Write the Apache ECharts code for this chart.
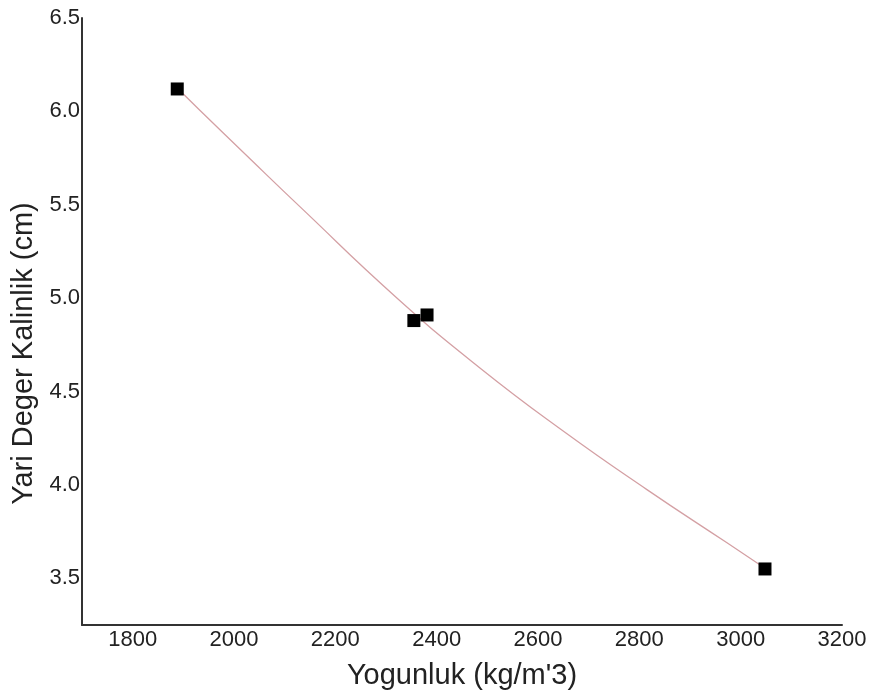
<!DOCTYPE html>
<html>
<head>
<meta charset="utf-8">
<script src="https://cdn.jsdelivr.net/npm/echarts@6/dist/echarts.min.js"></script>
<style>html,body{margin:0;padding:0;background:#fff;}#c{width:873px;height:695px;}</style>
</head>
<body>
<div id="c"></div>
<script>
// Measured points: density (kg/m^3) vs half-value thickness (cm)
const pointX = [1888, 2355, 2381, 3048];
const pointY = [6.12, 4.88, 4.91, 3.55];
// Fit curve
const curveX = [1888, 1933, 2032, 2130, 2322, 2486, 2649, 2815, 2973, 3048];
const curveY = [6.125, 6.005, 5.745, 5.49, 5.0, 4.625, 4.29, 3.975, 3.69, 3.554];
const xLabelValues = [1800, 2000, 2200, 2400, 2600, 2800, 3000, 3200];
const yLabelValues = [3.5, 4.0, 4.5, 5.0, 5.5, 6.0, 6.5];

const chart = echarts.init(document.getElementById('c'), null, {renderer: 'canvas'});
const font = 'Liberation Sans, Arial, sans-serif';
chart.setOption({
  animation: false,
  backgroundColor: '#ffffff',
  grid: {left: 82, right: 31, top: 18, bottom: 70},
  xAxis: {
    type: 'value', min: 1700, max: 3200, interval: 100,
    name: 'Yogunluk (kg/m\'3)', nameLocation: 'middle', nameGap: 36,
    nameTextStyle: {fontFamily: font, fontSize: 29, color: '#222'},
    axisLine: {show: true, lineStyle: {color: '#333', width: 2}},
    axisTick: {show: false},
    splitLine: {show: false},
    axisLabel: {
      fontFamily: font, fontSize: 22, color: '#222', margin: 4,
      formatter: v => xLabelValues.includes(v) ? String(v) : ''
    }
  },
  yAxis: {
    type: 'value', min: 3.25, max: 6.5, interval: 0.25,
    name: 'Yari Deger Kalinlik (cm)', nameLocation: 'middle', nameGap: 42,
    nameTextStyle: {fontFamily: font, fontSize: 29, color: '#222', padding: [0, 64, 0, 0]},
    axisLine: {show: true, lineStyle: {color: '#333', width: 2}},
    axisTick: {show: false},
    splitLine: {show: false},
    axisLabel: {
      fontFamily: font, fontSize: 22, color: '#222', margin: 2,
      formatter: v => {
        const r = Math.round(v * 100) / 100;
        return yLabelValues.some(t => Math.abs(t - r) < 1e-6) ? r.toFixed(1) : '';
      }
    }
  },
  series: [
    {
      type: 'line', smooth: 0.5, symbol: 'none',
      data: curveX.map((x, i) => [x, curveY[i]]),
      lineStyle: {color: '#d4a0a4', width: 1.3},
      z: 1
    },
    {
      type: 'scatter', symbol: 'rect', symbolSize: 13,
      data: pointX.map((x, i) => [x, pointY[i]]),
      itemStyle: {color: '#000', opacity: 1},
      z: 2
    }
  ]
});
</script>
</body>
</html>
